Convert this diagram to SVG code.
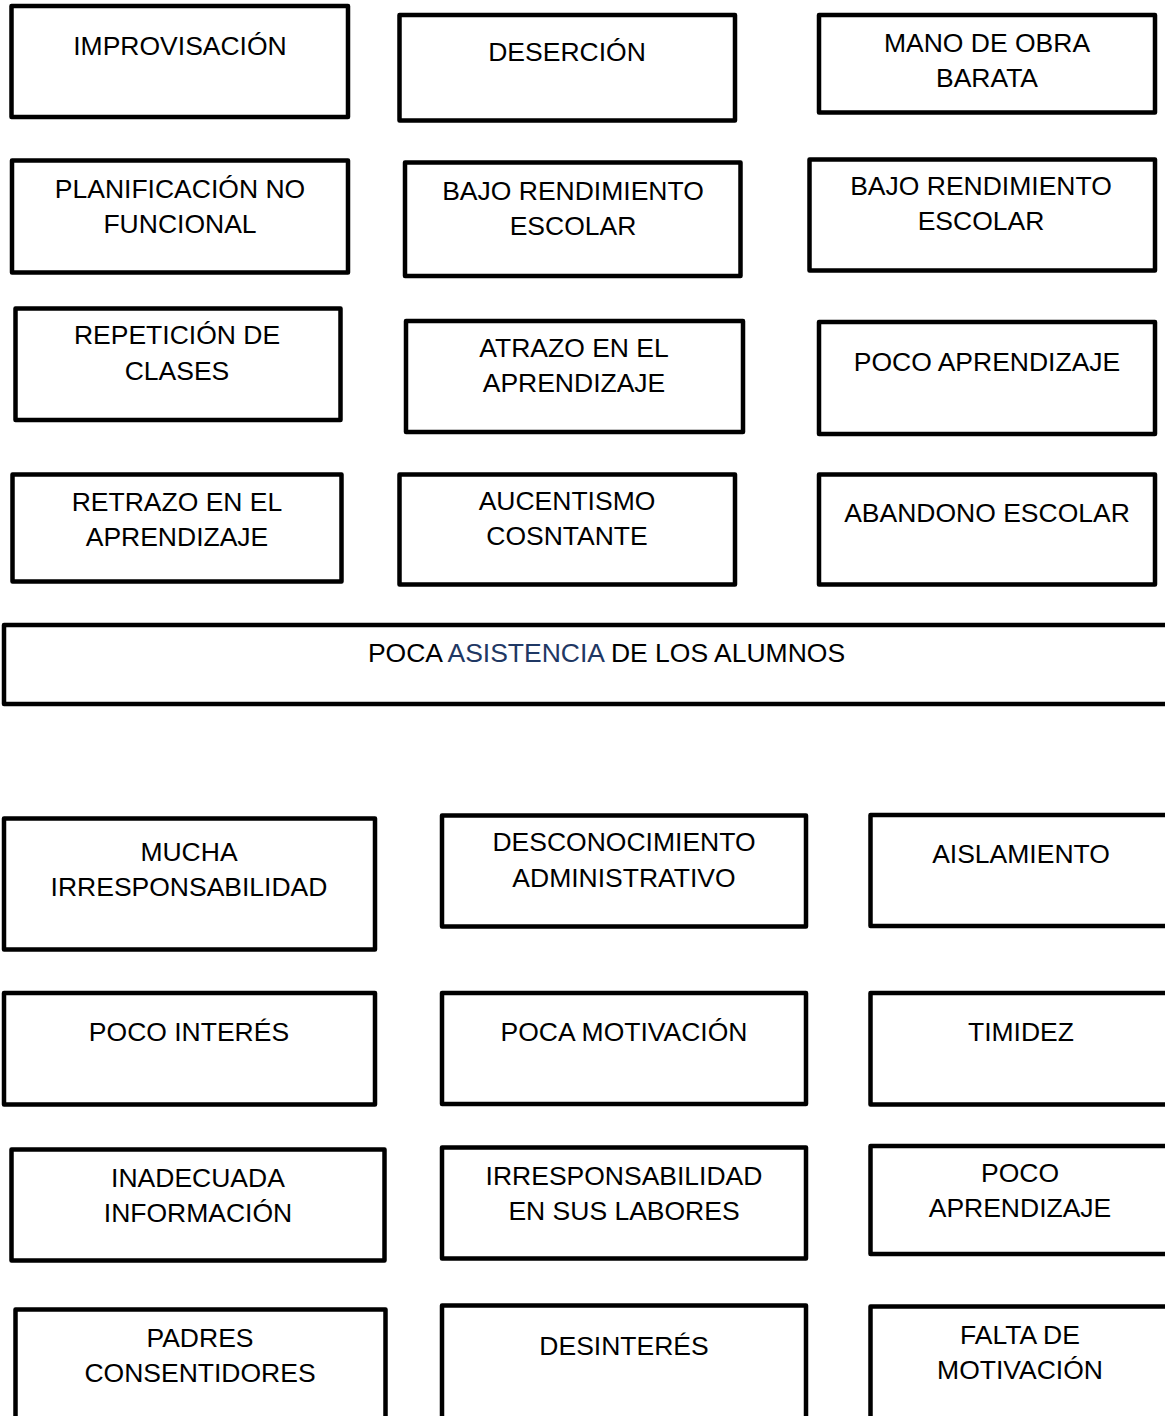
<svg xmlns="http://www.w3.org/2000/svg" width="1165" height="1416" viewBox="0 0 1165 1416">
<style>
.b{fill:#fff;stroke:#000;stroke-width:4.5;stroke-linejoin:round}
.t{font-family:"Liberation Sans",Arial,sans-serif;font-size:26.5px;fill:#000;text-anchor:middle}
.blue{fill:#1F3864}
</style>
<rect width="1165" height="1416" fill="#fff"/>
<g id="connectors"></g>
<g id="n1"><rect class="b" x="11.5" y="6" width="336.5" height="111"/><text class="t" x="180" y="55">IMPROVISACIÓN</text></g>
<g id="n2"><rect class="b" x="399.5" y="15" width="335.5" height="105.5"/><text class="t" x="567" y="61">DESERCIÓN</text></g>
<g id="n3"><rect class="b" x="819" y="15" width="336" height="97.5"/><text class="t" x="987" y="52">MANO DE OBRA</text><text class="t" x="987" y="87">BARATA</text></g>
<g id="n4"><rect class="b" x="12" y="160.5" width="336" height="112"/><text class="t" x="180" y="198">PLANIFICACIÓN NO</text><text class="t" x="180" y="233">FUNCIONAL</text></g>
<g id="n5"><rect class="b" x="405" y="162.5" width="335.5" height="113.5"/><text class="t" x="573" y="200">BAJO RENDIMIENTO</text><text class="t" x="573" y="235">ESCOLAR</text></g>
<g id="n6"><rect class="b" x="809.5" y="159.5" width="345.5" height="111"/><text class="t" x="981" y="195">BAJO RENDIMIENTO</text><text class="t" x="981" y="230">ESCOLAR</text></g>
<g id="n7"><rect class="b" x="15.5" y="308.5" width="325" height="111.5"/><text class="t" x="177" y="344">REPETICIÓN DE</text><text class="t" x="177" y="380">CLASES</text></g>
<g id="n8"><rect class="b" x="406" y="321" width="337" height="111"/><text class="t" x="574" y="357">ATRAZO EN EL</text><text class="t" x="574" y="392">APRENDIZAJE</text></g>
<g id="n9"><rect class="b" x="819" y="322" width="336" height="112"/><text class="t" x="987" y="371">POCO APRENDIZAJE</text></g>
<g id="n10"><rect class="b" x="12.5" y="474.5" width="329" height="107"/><text class="t" x="177" y="511">RETRAZO EN EL</text><text class="t" x="177" y="546">APRENDIZAJE</text></g>
<g id="n11"><rect class="b" x="399.5" y="474.5" width="335.5" height="110"/><text class="t" x="567" y="510">AUCENTISMO</text><text class="t" x="567" y="545">COSNTANTE</text></g>
<g id="n12"><rect class="b" x="819" y="474.5" width="336" height="110"/><text class="t" x="987" y="522">ABANDONO ESCOLAR</text></g>
<g id="n13"><rect class="b" x="4" y="625" width="1175" height="79"/><text class="t" x="606.5" y="662">POCA <tspan class="blue">ASISTENCIA</tspan> DE LOS ALUMNOS</text></g>
<g id="n14"><rect class="b" x="4" y="818.5" width="371" height="131"/><text class="t" x="189" y="861">MUCHA</text><text class="t" x="189" y="896">IRRESPONSABILIDAD</text></g>
<g id="n15"><rect class="b" x="442" y="815.5" width="364" height="111"/><text class="t" x="624" y="851">DESCONOCIMIENTO</text><text class="t" x="624" y="887">ADMINISTRATIVO</text></g>
<g id="n16"><rect class="b" x="870.5" y="815" width="310" height="111"/><text class="t" x="1021" y="863">AISLAMIENTO</text></g>
<g id="n17"><rect class="b" x="4" y="993" width="371" height="111.5"/><text class="t" x="189" y="1041">POCO INTERÉS</text></g>
<g id="n18"><rect class="b" x="442" y="993" width="364" height="111"/><text class="t" x="624" y="1041">POCA MOTIVACIÓN</text></g>
<g id="n19"><rect class="b" x="870.5" y="993" width="310" height="111.5"/><text class="t" x="1021" y="1041">TIMIDEZ</text></g>
<g id="n20"><rect class="b" x="11.5" y="1149.5" width="373" height="111"/><text class="t" x="198" y="1187">INADECUADA</text><text class="t" x="198" y="1222">INFORMACIÓN</text></g>
<g id="n21"><rect class="b" x="442" y="1147.5" width="364" height="111"/><text class="t" x="624" y="1185">IRRESPONSABILIDAD</text><text class="t" x="624" y="1220">EN SUS LABORES</text></g>
<g id="n22"><rect class="b" x="870.5" y="1146" width="310" height="108"/><text class="t" x="1020" y="1182">POCO</text><text class="t" x="1020" y="1217">APRENDIZAJE</text></g>
<g id="n23"><rect class="b" x="15.5" y="1309.5" width="370" height="130"/><text class="t" x="200" y="1347">PADRES</text><text class="t" x="200" y="1382">CONSENTIDORES</text></g>
<g id="n24"><rect class="b" x="442" y="1305.5" width="364" height="130"/><text class="t" x="624" y="1355">DESINTERÉS</text></g>
<g id="n25"><rect class="b" x="870.5" y="1306.5" width="310" height="130"/><text class="t" x="1020" y="1344">FALTA DE</text><text class="t" x="1020" y="1379">MOTIVACIÓN</text></g>
</svg>
